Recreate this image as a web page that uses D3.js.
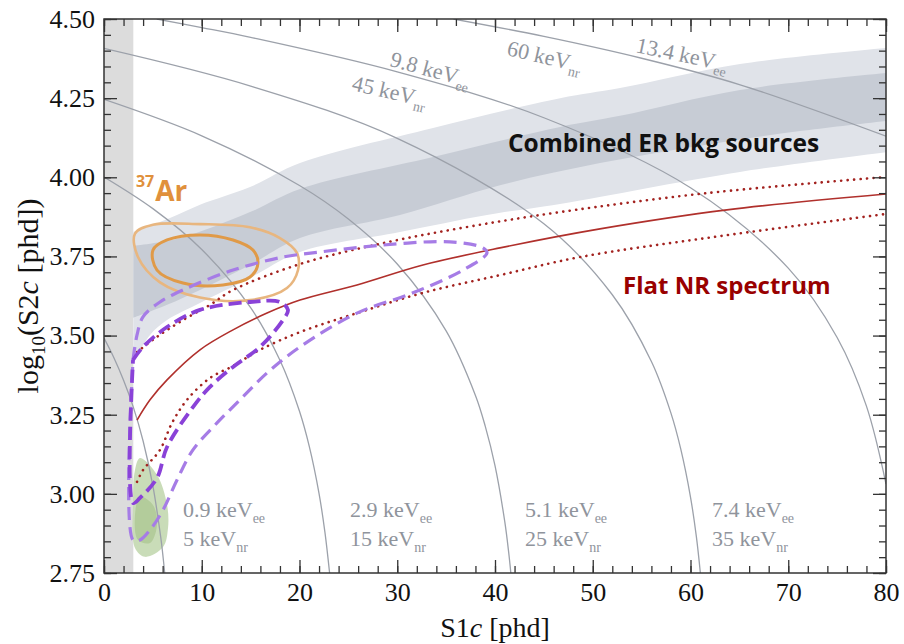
<!DOCTYPE html>
<meta charset="utf-8">
<script src="https://d3js.org/d3.v7.min.js"></script>
<style>
	body{
		margin:0;
		background:#fff;
	}
</style>
<div id="chart"></div>
<script>
// all points are [S1c in phd, log10(S2c in phd)]

// combined ER background band (outer light, inner dark)
var erOuterTop = [[3.0,3.827],[6.75,3.871],[9.82,3.913],[14.94,3.969],[20.05,4.045],[33.66,4.156],[46.65,4.250],[52.79,4.282],[65.06,4.358],[82,4.414]]
var erOuterBottom = [[3.0,3.417],[4.71,3.502],[6.45,3.549],[9.82,3.603],[14.94,3.682],[20.05,3.764],[30.28,3.827],[39.18,3.881],[46.65,3.916],[65.06,4.017],[82,4.087]]
var erInnerTop = [[3.0,3.783],[7.78,3.808],[14.94,3.890],[20.05,3.963],[33.66,4.064],[46.65,4.159],[52.79,4.194],[65.06,4.276],[82,4.335]]
var erInnerBottom = [[3.0,3.556],[6.45,3.597],[9.82,3.644],[14.94,3.723],[20.05,3.808],[30.28,3.881],[40.51,3.975],[50.74,4.045],[60.97,4.100],[71.2,4.146],[82,4.185]]

// flat NR spectrum: median and 10/90% lines
var nrMedian = [[3.38,3.233],[4.71,3.297],[6.45,3.360],[9.82,3.455],[13.2,3.518],[16.68,3.571],[20.05,3.612],[25.88,3.660],[32.63,3.723],[40.51,3.777],[50.74,3.837],[63.73,3.897],[80,3.947]]
var nrUpper = [[3.38,3.448],[5.42,3.496],[8.08,3.549],[10.84,3.597],[13.2,3.644],[20.05,3.726],[28.54,3.792],[37.14,3.843],[46.65,3.890],[61.69,3.950],[80,4.001]]
var nrLower = [[3.38,3.038],[3.99,3.075],[5.73,3.139],[6.96,3.224],[8.49,3.297],[10.84,3.366],[13.2,3.404],[15.96,3.455],[20.05,3.511],[25.88,3.571],[32.63,3.635],[40.51,3.691],[48.7,3.748],[62.3,3.811],[80,3.884]]

// signal contours (dashed violet)
var violetOuter = [[2.97,3.423],[3.38,3.502],[3.99,3.559],[5.73,3.606],[8.08,3.644],[13.2,3.707],[18.31,3.748],[22.1,3.764],[28.54,3.786],[35.4,3.796],[38.77,3.777],[39.18,3.761],[36.73,3.707],[31.61,3.635],[25.88,3.571],[20.05,3.464],[16.68,3.382],[13.91,3.297],[11.56,3.224],[9.1,3.139],[7.47,3.044],[6.04,2.949],[4.71,2.886],[3.68,2.854],[2.97,2.854],[2.97,3.423]]
var violetInner = [[2.97,3.423],[3.99,3.464],[6.45,3.527],[9.82,3.581],[14.94,3.606],[18.0,3.606],[18.82,3.581],[18.31,3.549],[15.96,3.464],[13.2,3.401],[10.84,3.338],[9.1,3.274],[6.45,3.148],[5.42,3.050],[3.68,2.987],[2.97,2.971],[2.97,3.423]]

// 37Ar contours
var arOuter = [[3.17,3.822],[5.01,3.850],[9.82,3.852],[14.94,3.842],[18.0,3.808],[19.74,3.761],[19.85,3.707],[18.72,3.650],[14.94,3.612],[9.82,3.620],[5.73,3.668],[3.48,3.748]]
var arInner = [[5.01,3.770],[6.45,3.802],[9.82,3.818],[13.2,3.802],[15.24,3.770],[15.75,3.729],[14.94,3.685],[12.17,3.660],[8.08,3.666],[5.42,3.707]]

// 8B blob
var greenBlob = [[3.68,3.113],[5.42,3.060],[6.45,2.965],[6.55,2.892],[6.04,2.832],[4.19,2.801],[3.17,2.829],[2.97,2.965],[3.17,3.075]]
var greenCore = [[3.68,2.990],[5.01,2.965],[5.42,2.902],[4.71,2.845],[3.48,2.854],[3.17,2.933]]

// lines of constant energy
var eeLabels = ["0.9","2.9","5.1","7.4","9.8","13.4"]
var nrLabels = ["5","15","25","35","45","60"]
var energyLines = [
	[[0,3.492],[1,3.431],[2,3.359],[3,3.274],[4,3.167],[5,3.025],[5.8,2.864],[6.0,2.813],[6.21,2.75]],
	[[0,4.001],[5,3.901],[10,3.772],[15,3.588],[18,3.422],[20,3.261],[21,3.150],[22,3.001],[22.6,2.879],[23.08,2.75]],
	[[0,4.246],[10,4.131],[20,3.974],[25,3.868],[30,3.726],[35,3.515],[38,3.311],[39,3.214],[40,3.089],[41,2.912],[41.4,2.815],[41.62,2.75]],
	[[0,4.407],[15,4.288],[30,4.123],[45,3.853],[52,3.629],[56,3.418],[58,3.255],[59,3.142],[60,2.990],[60.6,2.865],[61.01,2.75]],
	[[5.4,4.5],[10,4.473],[15,4.442],[30,4.333],[45,4.188],[60,3.967],[70,3.713],[75,3.494],[78,3.277],[80,3.031]],
	[[35.75,4.5],[45,4.445],[55,4.376],[65,4.293],[80,4.130]]
]

var xMajor = d3.range(0,81,10)
var xMinor = d3.range(0,81,2)
var yMajor = [2.75,3.00,3.25,3.50,3.75,4.00,4.25,4.50]
var yMinor = d3.range(2.75,4.501,0.05)

var serif = "'Liberation Serif','Tinos','Times New Roman','DejaVu Serif',serif"
var sans = "'Open Sans',Lato,sans-serif"

var w = 904, h = 644
var x = d3.scaleLinear().domain([0,80]).range([104,886])
var y = d3.scaleLinear().domain([2.75,4.5]).range([573,19])

var svg = d3.select("#chart").append("svg").attr("width",w).attr("height",h)

svg.append("clipPath").attr("id","plotClip")
	.append("rect").attr("x",x(0)).attr("y",y(4.5)).attr("width",x(80)-x(0)).attr("height",y(2.75)-y(4.5))

var plot = svg.append("g").attr("clip-path","url(#plotClip)")

var openLine = d3.line().x(function(d){return x(d[0])}).y(function(d){return y(d[1])}).curve(d3.curveCatmullRom.alpha(0.5))
var loopLine = d3.line().x(function(d){return x(d[0])}).y(function(d){return y(d[1])}).curve(d3.curveCatmullRomClosed.alpha(0.5))

function band(top,bottom){
	var back = openLine(bottom.slice().reverse())
	return openLine(top)+"L"+back.slice(1)+"Z"
}

// threshold strip
plot.append("rect").attr("x",x(0)).attr("y",y(4.5)).attr("width",x(3)-x(0)).attr("height",y(2.75)-y(4.5)).attr("fill","#dcdcdc")

plot.append("path").attr("d",band(erOuterTop,erOuterBottom)).attr("fill","#e0e3e9")
plot.append("path").attr("d",band(erInnerTop,erInnerBottom)).attr("fill","#c7ccd5")

plot.append("path").attr("d",loopLine(greenBlob)).attr("fill","#c3d8b0").attr("opacity",0.9)
plot.append("path").attr("d",loopLine(greenCore)).attr("fill","#a9c48f").attr("opacity",0.7)

plot.selectAll(".eline").data(energyLines).join("path")
	.attr("class","eline")
	.attr("d",openLine)
	.attr("fill","none")
	.attr("stroke","#9ca1aa")
	.attr("stroke-width",1.3)

plot.append("path").attr("d",loopLine(arOuter)).attr("fill","none").attr("stroke","#e8b67f").attr("stroke-width",2.6)
plot.append("path").attr("d",loopLine(arInner)).attr("fill","none").attr("stroke","#e09a48").attr("stroke-width",3)

plot.append("path").attr("d",openLine(nrMedian)).attr("fill","none").attr("stroke","#b0302c").attr("stroke-width",1.6)
plot.selectAll(".dotted").data([nrUpper,nrLower]).join("path")
	.attr("class","dotted")
	.attr("d",openLine)
	.attr("fill","none")
	.attr("stroke","#a3221f")
	.attr("stroke-width",2.6)
	.attr("stroke-linecap","round")
	.attr("stroke-dasharray","0.1 6.4")

plot.append("path").attr("d",openLine(violetOuter)).attr("fill","none").attr("stroke","#a67ce6").attr("stroke-width",3.2).attr("stroke-dasharray","13 7")
plot.append("path").attr("d",openLine(violetInner)).attr("fill","none").attr("stroke","#8a42d8").attr("stroke-width",3.8).attr("stroke-dasharray","13 6")

// axes, ticks pointing inward on all four sides
function styleAxis(g){
	g.select(".domain").remove()
	g.attr("font-family",serif)
	g.selectAll("line").attr("stroke","#333").attr("stroke-width",1.3)
	g.selectAll("text").attr("fill","#111").style("font-family",serif).style("font-size","26px")
}
svg.append("g").attr("transform","translate(0,"+y(2.75)+")")
	.call(d3.axisBottom(x).tickValues(xMinor).tickSize(-7).tickFormat("")).call(styleAxis)
svg.append("g").attr("transform","translate(0,"+y(2.75)+")")
	.call(d3.axisBottom(x).tickValues(xMajor).tickSize(-13).tickPadding(10).tickFormat(d3.format("d"))).call(styleAxis)
svg.append("g").attr("transform","translate(0,"+y(4.5)+")")
	.call(d3.axisTop(x).tickValues(xMinor).tickSize(-7).tickFormat("")).call(styleAxis)
svg.append("g").attr("transform","translate(0,"+y(4.5)+")")
	.call(d3.axisTop(x).tickValues(xMajor).tickSize(-13).tickFormat("")).call(styleAxis)
svg.append("g").attr("transform","translate("+x(0)+",0)")
	.call(d3.axisLeft(y).tickValues(yMinor).tickSize(-7).tickFormat("")).call(styleAxis)
svg.append("g").attr("transform","translate("+x(0)+",0)")
	.call(d3.axisLeft(y).tickValues(yMajor).tickSize(-13).tickPadding(9).tickFormat(d3.format(".2f"))).call(styleAxis)
svg.append("g").attr("transform","translate("+x(80)+",0)")
	.call(d3.axisRight(y).tickValues(yMinor).tickSize(-7).tickFormat("")).call(styleAxis)
svg.append("g").attr("transform","translate("+x(80)+",0)")
	.call(d3.axisRight(y).tickValues(yMajor).tickSize(-13).tickFormat("")).call(styleAxis)

svg.append("rect").attr("x",x(0)).attr("y",y(4.5)).attr("width",x(80)-x(0)).attr("height",y(2.75)-y(4.5))
	.attr("fill","none").attr("stroke","#333").attr("stroke-width",1.5)

// axis titles
var xt = svg.append("text").attr("x",x(40)).attr("y",637).attr("text-anchor","middle")
	.style("font-family",serif).style("font-size","28px").attr("fill","#111")
xt.append("tspan").text("S1")
xt.append("tspan").style("font-style","italic").text("c")
xt.append("tspan").text(" [phd]")

var yt = svg.append("text").attr("transform","translate(38,"+y(3.625)+") rotate(-90)").attr("text-anchor","middle")
	.style("font-family",serif).style("font-size","30px").attr("fill","#111")
yt.append("tspan").text("log")
yt.append("tspan").attr("dy",7).style("font-size","19px").text("10")
yt.append("tspan").attr("dy",-7).text("(S2")
yt.append("tspan").style("font-style","italic").text("c")
yt.append("tspan").text(" [phd])")

// energy labels: bottom row flat, top ones follow the curves
var bottomPos = [[8.08,2.927],[25.17,2.927],[43.07,2.927],[62.2,2.927]]
var bottomPosNr = [[8.08,2.834],[25.17,2.834],[43.07,2.834],[62.2,2.834]]
function eLabel(g,num,sub){
	g.append("tspan").text(num+" keV")
	g.append("tspan").attr("dy",6).style("font-size","14px").text(sub)
}
function labelText(){
	return svg.append("text").style("font-family",serif).style("font-size","22px").attr("fill","#8f949c")
}
for(var i=0;i<4;i++){
	eLabel(labelText().attr("x",x(bottomPos[i][0])).attr("y",y(bottomPos[i][1])),eeLabels[i],"ee")
	eLabel(labelText().attr("x",x(bottomPosNr[i][0])).attr("y",y(bottomPosNr[i][1])),nrLabels[i],"nr")
}
var topLabels = [
	{p:[29.16,4.352],a:15,num:eeLabels[4],sub:"ee"},
	{p:[25.27,4.276],a:13,num:nrLabels[4],sub:"nr"},
	{p:[41.13,4.386],a:13,num:nrLabels[5],sub:"nr"},
	{p:[54.32,4.396],a:12,num:eeLabels[5],sub:"ee"}
]
topLabels.forEach(function(d){
	var t = labelText().attr("transform","translate("+x(d.p[0])+","+y(d.p[1])+") rotate("+d.a+")")
	eLabel(t,d.num,d.sub)
})

// annotations
svg.append("text").attr("x",x(41.33)).attr("y",y(4.080))
	.style("font-family",sans).style("font-weight",700).style("font-size","24.5px").attr("fill","#111").text("Combined ER bkg sources")
svg.append("text").attr("x",x(53.1)).attr("y",y(3.631))
	.style("font-family",sans).style("font-weight",700).style("font-size","24px").attr("fill","#990000").text("Flat NR spectrum")
var ar = svg.append("text").attr("x",x(3.27)).attr("y",y(3.925))
	.style("font-family",sans).style("font-weight",700).attr("fill","#e0903c")
ar.append("tspan").attr("dy",-14).style("font-size","16px").text("37")
ar.append("tspan").attr("dx",1).attr("dy",14).style("font-size","28px").text("Ar")
</script>
